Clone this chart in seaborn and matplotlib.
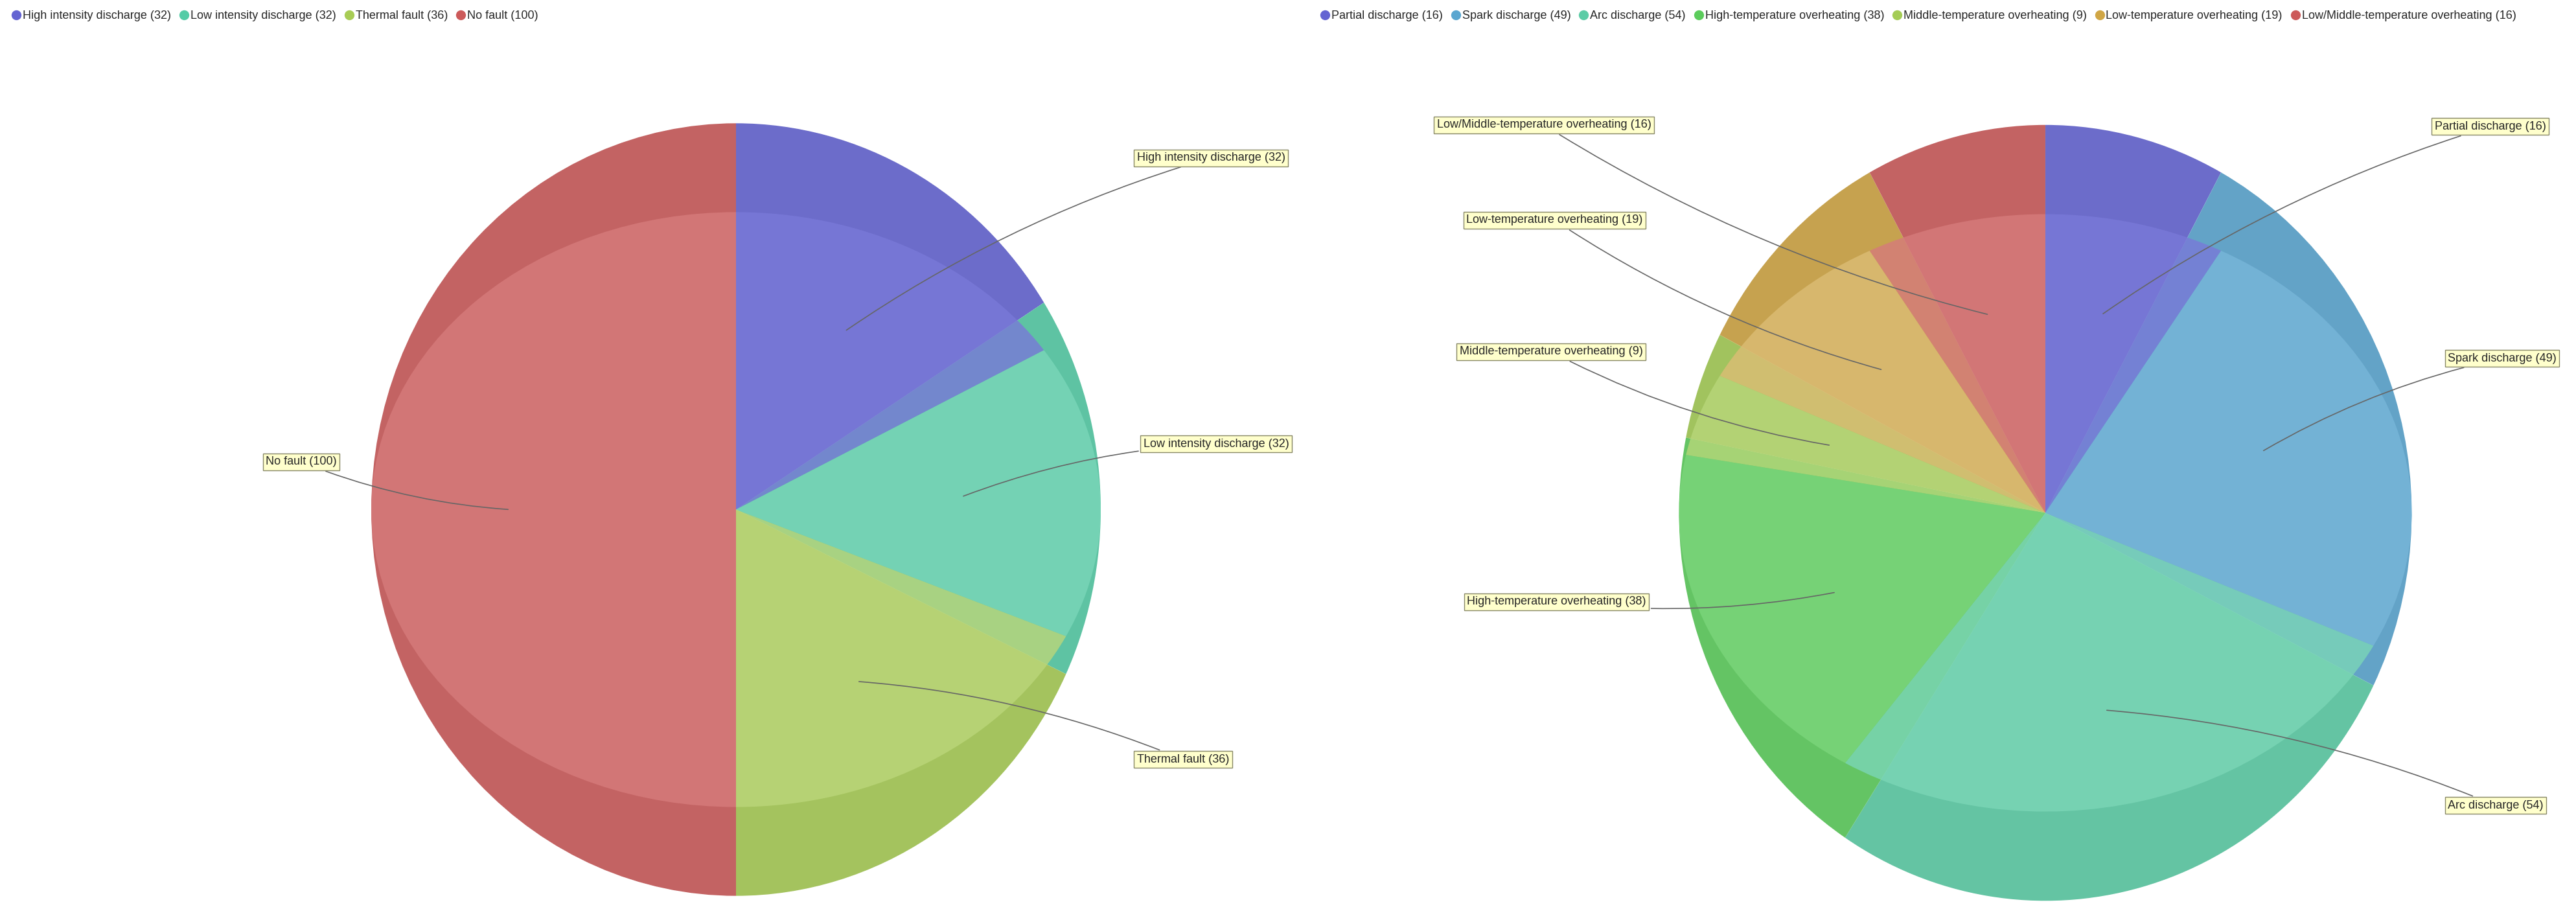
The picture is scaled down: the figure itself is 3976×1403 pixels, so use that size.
import matplotlib
matplotlib.use("Agg")
import matplotlib.pyplot as plt
import seaborn as sns
import numpy as np
from matplotlib.transforms import Affine2D
from matplotlib.lines import Line2D

sns.set_style("white")
plt.rcParams['font.family'] = ['Liberation Sans', 'DejaVu Sans']

left_labels = ["High intensity discharge", "Low intensity discharge", "Thermal fault", "No fault"]
left_values = [32, 32, 36, 100]
left_colors = ["#6464d2", "#55cca6", "#a8cc55", "#cc5a5a"]

right_labels = ["Partial discharge", "Spark discharge", "Arc discharge", "High-temperature overheating",
                "Middle-temperature overheating", "Low-temperature overheating",
                "Low/Middle-temperature overheating"]
right_values = [16, 49, 54, 38, 9, 19, 16]
right_colors = ["#6464d2", "#5aa6d0", "#5ccca6", "#5ccc5c", "#a4cc55", "#d0a645", "#cc5a5a"]

W, H = 1568.0, 553.0
fig = plt.figure(figsize=(39.76, 14.03), dpi=100)

left_boxes = [(692, 96, 'left'), (696, 270, 'left'), (692, 462, 'left'), (205, 281, 'right')]
right_boxes = [(1482, 77, 'left'), (1490, 218, 'left'), (1490, 490, 'left'), (1002, 366, 'right'),
               (1000, 214, 'right'), (1000, 134, 'right'), (1005, 76, 'right')]

def draw(cx, cy, rx, ry, labels, values, colors, boxes):
    ax = fig.add_axes([(cx - rx) / W, 1 - (cy + ry) / H, 2 * rx / W, 2 * ry / H])
    ax.pie(values, colors=colors, startangle=90, counterclock=False, radius=1,
           wedgeprops=dict(linewidth=0))
    for w in ax.patches:
        w.set_facecolor(sns.desaturate(w.get_facecolor()[:3], 0.85))
    n0 = len(ax.patches)
    ax.pie(values, colors=colors, startangle=90, counterclock=False, radius=1,
           wedgeprops=dict(linewidth=0))
    sc = Affine2D().scale(1, 0.77) + ax.transData
    for w in ax.patches[n0:]:
        w.set_transform(sc)
        w.set_facecolor(sns.set_hls_values(w.get_facecolor()[:3], l=0.66) + (0.8,))
    ax.set_xlim(-1, 1); ax.set_ylim(-1, 1); ax.set_aspect('auto'); ax.axis('off')
    total = sum(values)
    start = 90.0
    for lab, v, (bx, by, ha) in zip(labels, values, boxes):
        ang = np.deg2rad(start - v / total * 180)
        start -= v / total * 360
        px, py = 0.62 * np.cos(ang), 0.62 * np.sin(ang) * 0.85
        ax.annotate(f"{lab} ({v})", xy=(px, py), xycoords='data',
                    xytext=(bx / W, 1 - by / H), textcoords='figure fraction', ha=ha, va='center',
                    fontsize=13,
                    bbox=dict(boxstyle='square,pad=0.25', fc='#ffffcc', ec='#888866', lw=1),
                    arrowprops=dict(arrowstyle='-', color='#666666', lw=1.2,
                                    connectionstyle='arc3,rad=0.08'))
    return ax

draw(448, 310, 222, 235, left_labels, left_values, left_colors, left_boxes)
draw(1245, 312, 223, 236, right_labels, right_values, right_colors, right_boxes)

def legend(x, labels, values, colors):
    handles = [Line2D([], [], marker='o', ls='', color=c, markersize=10) for c in colors]
    fig.legend(handles, [f"{l} ({v})" for l, v in zip(labels, values)],
               loc='upper left', bbox_to_anchor=(x, 1.0), ncol=len(labels), frameon=False,
               fontsize=13, handletextpad=0.05, columnspacing=0.6, borderaxespad=0.5,
               handlelength=1.0)

legend(0.0, left_labels, left_values, left_colors)
legend(0.508, right_labels, right_values, right_colors)

fig.savefig("out.png", dpi=100, facecolor='white')
